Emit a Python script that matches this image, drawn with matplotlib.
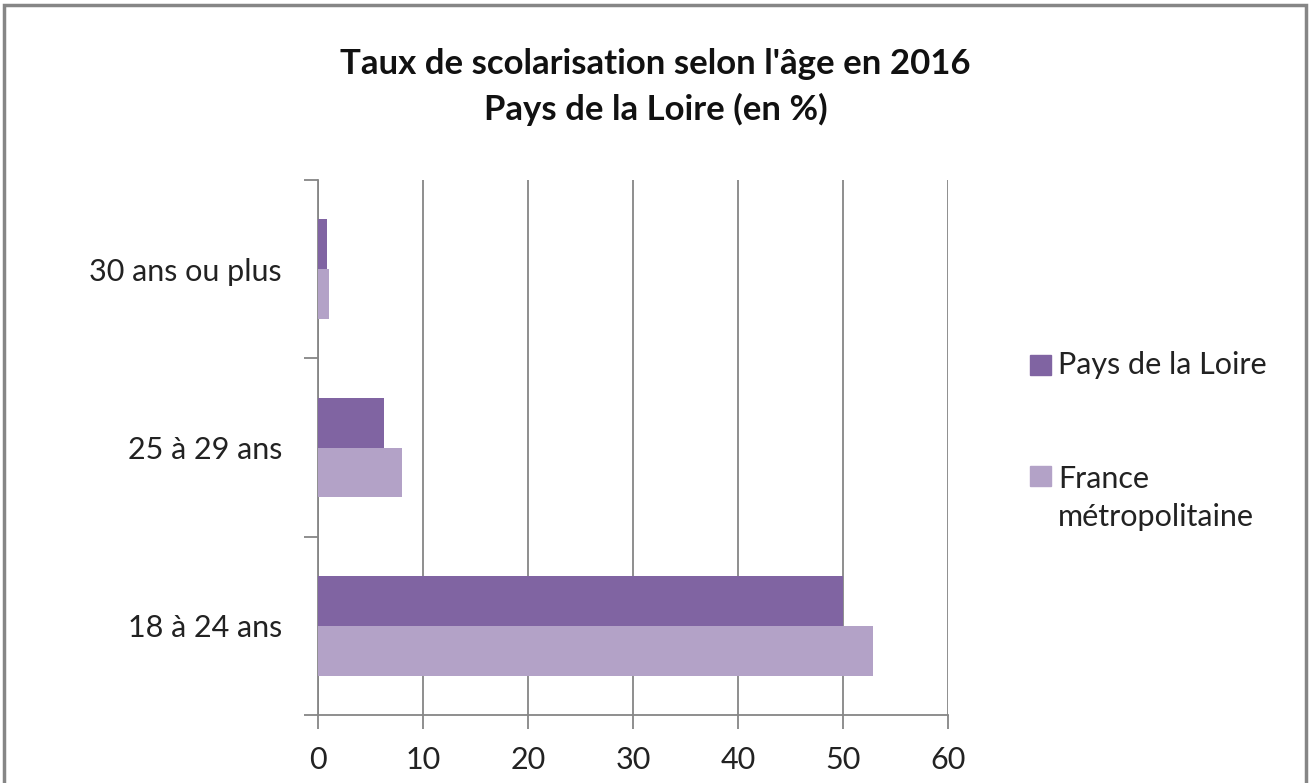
import numpy as np
import matplotlib.pyplot as plt
from matplotlib.patches import Rectangle

plt.rcParams['font.family'] = ['Lato', 'DejaVu Sans']

categories = ['18 à 24 ans', '25 à 29 ans', '30 ans ou plus']
pays_loire = [50.0, 6.3, 0.85]
france_metro = [52.9, 8.0, 1.0]
series_names = ['Pays de la Loire', 'France\nmétropolitaine']
colors = ['#8064A2', '#B3A2C7']

W, H = 1311, 783
fig = plt.figure(figsize=(W/100, H/100), dpi=100)
ax = fig.add_axes([318/W, 1 - 715/H, (948-318)/W, (715-180)/H])

y = np.arange(len(categories))
h = 0.28
ax.barh(y + h/2, pays_loire, height=h, color=colors[0], zorder=3)
ax.barh(y - h/2, france_metro, height=h, color=colors[1], zorder=3)

ax.set_xlim(0, 60)
ax.set_ylim(-0.5, 2.5)
ax.set_xticks(np.arange(0, 61, 10))
ax.set_yticks(y)
ax.set_yticklabels(categories)
ax.set_yticks(np.arange(-0.5, 2.6, 1), minor=True)
ax.tick_params(axis='y', which='major', length=0, pad=26, labelsize=22, labelcolor='#222222')
ax.tick_params(axis='y', which='minor', length=10, width=1.3, color='#868686', direction='out')
ax.tick_params(axis='x', length=10, width=1.3, color='#868686', direction='out', pad=12,
               labelsize=22, labelcolor='#222222')

ax.grid(axis='x', color='#868686', linewidth=1.3, zorder=0)
for s in ['top', 'right']:
    ax.spines[s].set_visible(False)
for s in ['left', 'bottom']:
    ax.spines[s].set_color('#868686')
    ax.spines[s].set_linewidth(1.3)

fig.text(0.5, 1 - 64/H, "Taux de scolarisation selon l'âge en 2016", ha='center', va='center',
         fontsize=25, fontweight='bold', color='#111111')
fig.text(0.5, 1 - 109/H, "Pays de la Loire (en %)", ha='center', va='center',
         fontsize=25, fontweight='bold', color='#111111')

# legend drawn by hand: square aligned with the first line of each label
leg_rows = [365, 476]
for name, col, yc in zip(series_names, colors, leg_rows):
    fig.patches.append(Rectangle((1030/W, 1 - (yc + 10)/H), 21/W, 20/H,
                                 transform=fig.transFigure, color=col))
    n = name.count('\n')
    fig.text(1058/W, 1 - (yc + n * 22)/H, name, ha='left', va='center', fontsize=22,
             color='#222222', linespacing=1.45)

fig.patches.append(Rectangle((4/W, -0.05), 1 - 9/W, 1.05 - 5/H, transform=fig.transFigure,
                             fill=False, edgecolor='#868686', linewidth=2.5))

fig.savefig('out.png', dpi=100, facecolor='white')
